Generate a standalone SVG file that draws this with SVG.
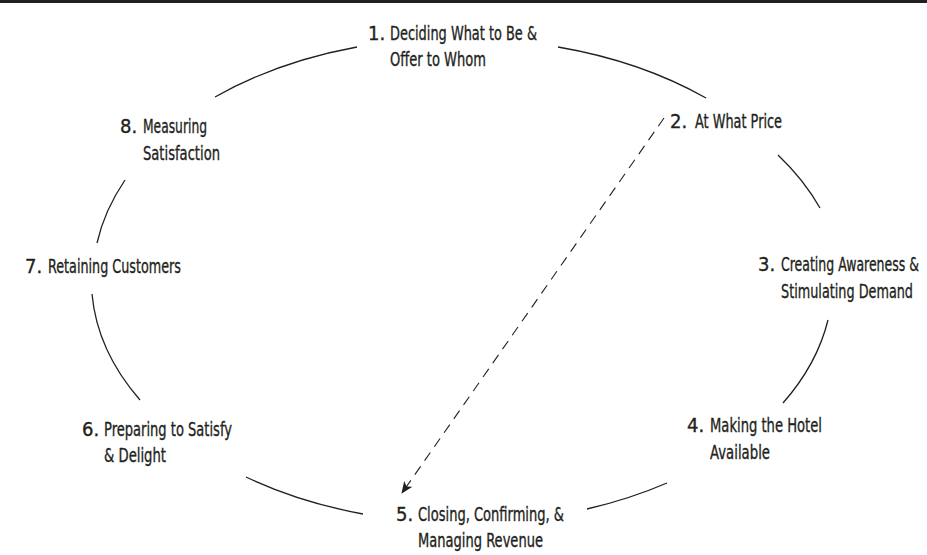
<svg xmlns="http://www.w3.org/2000/svg" width="927" height="555" viewBox="0 0 927 555">
<defs>
<style>
text{font-family:"Liberation Sans Narrow","DejaVu Sans Condensed","Liberation Sans",sans-serif;font-size:20px;fill:#231f20;stroke:#231f20;stroke-width:0.35}
.arc{fill:none;stroke:#231f20;stroke-width:1.3}
.dash{fill:none;stroke:#231f20;stroke-width:1.1;stroke-dasharray:10 7}
</style>
<marker id="ah" viewBox="0 0 12 10" refX="11" refY="5" markerWidth="12" markerHeight="10" markerUnits="userSpaceOnUse" orient="auto">
<path d="M0,0 L12,5 L0,10 L3,5 Z" fill="#231f20"/>
</marker>
</defs>
<rect x="0" y="0" width="927" height="3" fill="#231f20"/>
<g id="connectors">
<path class="arc" d="M215,97 A370,243 0 0 1 357,47"/>
<path class="arc" d="M558,47 A370,243 0 0 1 706,98"/>
<path class="arc" d="M778,155 A370,243 0 0 1 820,208"/>
<path class="arc" d="M828,320 A370,243 0 0 1 783,403"/>
<path class="arc" d="M667,483 A370,243 0 0 1 587,509"/>
<path class="arc" d="M363,514 A370,243 0 0 1 246,477"/>
<path class="arc" d="M140,400 A370,243 0 0 1 92,294"/>
<path class="arc" d="M97,243 A370,243 0 0 1 125,180"/>
<path class="dash" d="M664,118 L402,493" marker-end="url(#ah)"/>
</g>
<g id="n1"><text x="368" y="40">1.</text><text x="390" y="40" textLength="147" lengthAdjust="spacingAndGlyphs">Deciding What to Be &amp;</text><text x="390" y="66" textLength="96" lengthAdjust="spacingAndGlyphs">Offer to Whom</text></g>
<g id="n2"><text x="670" y="128">2.</text><text x="695" y="128" textLength="87" lengthAdjust="spacingAndGlyphs">At What Price</text></g>
<g id="n3"><text x="758" y="271">3.</text><text x="919" y="271" text-anchor="end" textLength="138" lengthAdjust="spacingAndGlyphs">Creating Awareness &amp;</text><text x="913" y="298" text-anchor="end" textLength="132" lengthAdjust="spacingAndGlyphs">Stimulating Demand</text></g>
<g id="n4"><text x="687" y="432">4.</text><text x="710" y="432" textLength="112" lengthAdjust="spacingAndGlyphs">Making the Hotel</text><text x="710" y="459" textLength="60" lengthAdjust="spacingAndGlyphs">Available</text></g>
<g id="n5"><text x="396" y="521">5.</text><text x="418" y="521" textLength="146" lengthAdjust="spacingAndGlyphs">Closing, Confirming, &amp;</text><text x="418" y="547" textLength="125" lengthAdjust="spacingAndGlyphs">Managing Revenue</text></g>
<g id="n6"><text x="82" y="436">6.</text><text x="104" y="436" textLength="128" lengthAdjust="spacingAndGlyphs">Preparing to Satisfy</text><text x="104" y="462" textLength="62" lengthAdjust="spacingAndGlyphs">&amp; Delight</text></g>
<g id="n7"><text x="25" y="273">7.</text><text x="48" y="273" textLength="133" lengthAdjust="spacingAndGlyphs">Retaining Customers</text></g>
<g id="n8"><text x="120" y="133">8.</text><text x="143" y="133" textLength="64" lengthAdjust="spacingAndGlyphs">Measuring</text><text x="143" y="160" textLength="77" lengthAdjust="spacingAndGlyphs">Satisfaction</text></g>
</svg>
